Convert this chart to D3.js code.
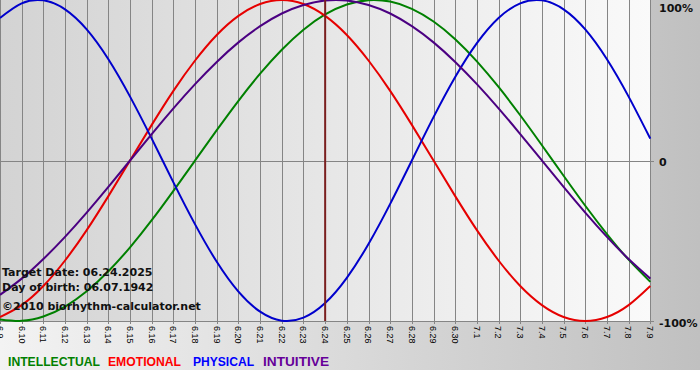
<!DOCTYPE html>
<html>
<head>
<meta charset="utf-8">
<script src="https://cdn.jsdelivr.net/npm/d3@7"></script>
<style>
  body { margin: 0; background: #fff; }
</style>
</head>
<body>
<div id="chart"></div>
<script>
// Days shown on the x axis (month.day)
const days = ["6.9", "6.10", "6.11", "6.12", "6.13", "6.14", "6.15", "6.16", "6.17", "6.18",
  "6.19", "6.20", "6.21", "6.22", "6.23", "6.24", "6.25", "6.26", "6.27", "6.28", "6.29",
  "6.30", "7.1", "7.2", "7.3", "7.4", "7.5", "7.6", "7.7", "7.8", "7.9"];

// Cycle values in percent, one per day
const intellectual = [-99.0, -99.9, -97.2, -91.0, -81.5, -69.0, -54.1, -37.2, -18.9, 0, 18.9,
  37.2, 54.1, 69.0, 81.5, 91.0, 97.2, 99.9, 99.0, 94.5, 86.6, 75.6, 61.8, 45.8, 28.2, 9.5,
  -9.5, -28.2, -45.8, -61.8, -75.6];
const emotional = [-97.5, -90.1, -78.2, -62.3, -43.4, -22.2, 0, 22.2, 43.4, 62.3, 78.2, 90.1,
  97.5, 100, 97.5, 90.1, 78.2, 62.3, 43.4, 22.2, 0, -22.2, -43.4, -62.3, -78.2, -90.1, -97.5,
  -100, -97.5, -90.1, -78.2];
const physical = [88.8, 97.9, 99.8, 94.2, 81.7, 63.1, 39.8, 13.6, -13.6, -39.8, -63.1, -81.7,
  -94.2, -99.8, -97.9, -88.8, -73.1, -52.0, -27.0, 0, 27.0, 52.0, 73.1, 88.8, 97.9, 99.8, 94.2,
  81.7, 63.1, 39.8, 13.6];
const intuitive = [-83.7, -73.6, -61.4, -47.6, -32.5, -16.5, 0, 16.5, 32.5, 47.6, 61.4, 73.6,
  83.7, 91.6, 96.9, 99.7, 99.7, 96.9, 91.6, 83.7, 73.6, 61.4, 47.6, 32.5, 16.5, 0, -16.5,
  -32.5, -47.6, -61.4, -73.6];

const targetDay = "6.24";
const yTicks = [100, 0, -100];
const yTickLabels = ["100%", "0", "-100%"];
const infoLines = ["Target Date: 06.24.2025", "Day of birth: 06.07.1942", "\u00a92010 biorhythm-calculator.net"];

const series = [
  { name: "INTELLECTUAL", values: intellectual, color: "#008000", legend: "#008000" },
  { name: "EMOTIONAL", values: emotional, color: "#e60000", legend: "#ff0000" },
  { name: "PHYSICAL", values: physical, color: "#0000cc", legend: "#0000ff" },
  { name: "INTUITIVE", values: intuitive, color: "#4b0082", legend: "#660099" }
];

const W = 700, H = 380;
const plotW = 651, plotH = 321;

const svg = d3.select("#chart")
  .append("svg")
    .attr("width", W)
    .attr("height", H);

// gradients
const defs = svg.append("defs");
const outer = defs.append("linearGradient").attr("id", "outerGrad");
outer.append("stop").attr("offset", "0%").attr("stop-color", "#f3f3f3");
outer.append("stop").attr("offset", "100%").attr("stop-color", "#c0c0c0");
const inner = defs.append("linearGradient").attr("id", "plotGrad");
inner.append("stop").attr("offset", "0%").attr("stop-color", "#d3d3d3");
inner.append("stop").attr("offset", "100%").attr("stop-color", "#fafafa");

svg.append("rect").attr("width", W).attr("height", 370).attr("fill", "url(#outerGrad)");
svg.append("rect").attr("width", plotW).attr("height", plotH).attr("fill", "url(#plotGrad)");

// scales
const x = d3.scalePoint()
  .domain(days)
  .range([0, 650.3]);
const y = d3.scaleLinear()
  .domain([-100, 100])
  .range([plotH, 0]);

const px = d => Math.round(x(d)) + 0.5;

// vertical grid lines with small ticks below the plot
svg.append("g")
  .selectAll("line")
  .data(days)
  .join("line")
    .attr("x1", px)
    .attr("x2", px)
    .attr("y1", 0)
    .attr("y2", plotH + 3)
    .attr("stroke", "#858585")
    .attr("stroke-width", 1);

// horizontal lines (zero + bottom)
svg.append("g")
  .selectAll("line")
  .data([0, -100])
  .join("line")
    .attr("x1", 0)
    .attr("x2", plotW + 3)
    .attr("y1", d => Math.round(y(d)) + 0.5)
    .attr("y2", d => Math.round(y(d)) + 0.5)
    .attr("stroke", "#858585");

// x labels, rotated
svg.append("g")
  .selectAll("text")
  .data(days)
  .join("text")
    .attr("transform", d => `translate(${x(d)},${plotH + 5}) rotate(90)`)
    .attr("dy", "0.35em")
    .attr("font-family", "Liberation Sans, Arial, sans-serif")
    .attr("font-size", "9px")
    .attr("fill", "#000")
    .text(d => d);

// right y labels
svg.append("g")
  .selectAll("text")
  .data(yTicks)
  .join("text")
    .attr("x", 659)
    .attr("y", d => Math.max(y(d) + 5.5, 12))
    .attr("font-family", "DejaVu Sans, Verdana, sans-serif")
    .attr("font-weight", "bold")
    .attr("font-size", "11px")
    .attr("fill", "#111")
    .text((d, i) => yTickLabels[i]);

// curves
const line = d3.line()
  .x((d, i) => x(days[i]))
  .y(d => y(d))
  .curve(d3.curveNatural);

svg.append("g")
  .selectAll("path")
  .data(series)
  .join("path")
    .attr("d", d => line(d.values))
    .attr("fill", "none")
    .attr("stroke", d => d.color)
    .attr("stroke-width", 2);

// target day marker
svg.append("line")
  .attr("x1", x(targetDay))
  .attr("x2", x(targetDay))
  .attr("y1", 0)
  .attr("y2", plotH)
  .attr("stroke", "#7a1f1f")
  .attr("stroke-width", 2);

// info text bottom-left
svg.append("g")
  .selectAll("text")
  .data(infoLines)
  .join("text")
    .attr("x", 2)
    .attr("y", (d, i) => [276, 291, 310][i])
    .attr("font-family", "DejaVu Sans, Verdana, sans-serif")
    .attr("font-weight", "bold")
    .attr("font-size", "11px")
    .attr("fill", "#111")
    .text(d => d);

// legend
const legendX = [8, 108, 193, 263];
const legendW = [92, 73, 61, 66];
svg.append("g")
  .selectAll("text")
  .data(series)
  .join("text")
    .attr("x", (d, i) => legendX[i])
    .attr("y", 366)
    .attr("font-family", "Liberation Sans, Arial, sans-serif")
    .attr("font-weight", "bold")
    .attr("font-size", "12.5px")
    .attr("textLength", (d, i) => legendW[i])
    .attr("lengthAdjust", "spacingAndGlyphs")
    .attr("fill", d => d.legend)
    .text(d => d.name);
</script>
</body>
</html>
